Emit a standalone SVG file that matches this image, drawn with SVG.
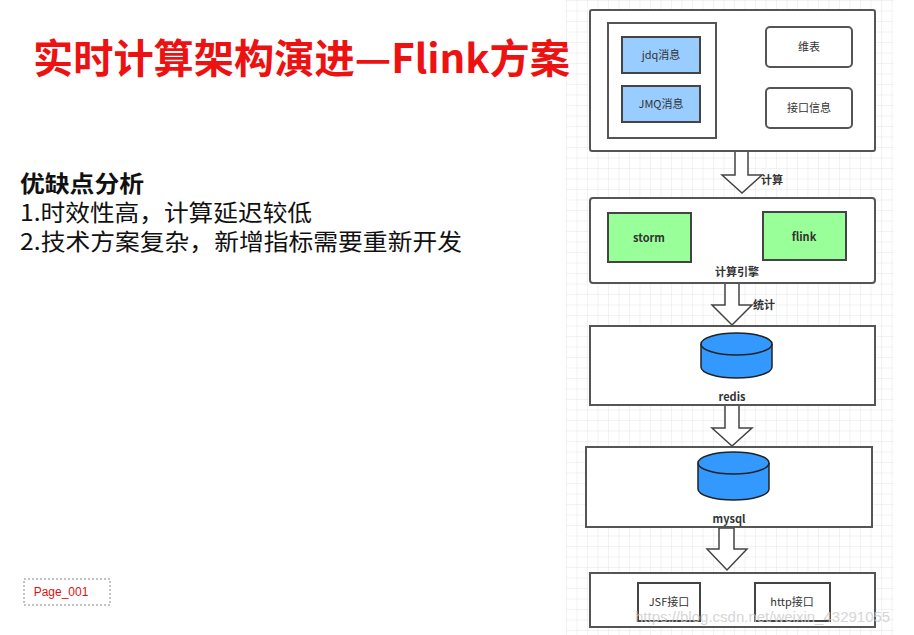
<svg xmlns="http://www.w3.org/2000/svg" width="914" height="635" viewBox="0 0 914 635">
<defs>
<pattern id="grid" width="10.5" height="10.5" patternUnits="userSpaceOnUse" x="566" y="0"><path d="M10.5 0H0V10.5" fill="none" stroke="#e6e6e6" stroke-width="1"/></pattern>
</defs>
<style>
.box{fill:#fff;stroke:#555;stroke-width:2}
.in{stroke:#444;stroke-width:2}
.t{font-family:"Noto Sans CJK SC","Liberation Sans",sans-serif;font-size:11px;fill:#333;text-anchor:middle}
.b{font-weight:bold}
.arr{fill:#fff;stroke:#444;stroke-width:1.5}
.cyl{fill:#3399ff;stroke:#222;stroke-width:1.5}
.L{font-family:"Noto Sans CJK SC",sans-serif;font-size:23px;fill:#111}
</style>
<rect width="914" height="635" fill="#fff"/>
<rect x="566" y="0" width="328" height="635" fill="url(#grid)"/>
<text x="33" y="73" font-family="Noto Sans CJK SC,sans-serif" font-weight="bold" font-size="40" fill="#ee1111" textLength="537" lengthAdjust="spacingAndGlyphs">实时计算架构演进—Flink方案</text>
<text x="20" y="192" class="L b" textLength="124" lengthAdjust="spacingAndGlyphs">优缺点分析</text>
<text x="20" y="221" class="L" textLength="292" lengthAdjust="spacingAndGlyphs">1.时效性高，计算延迟较低</text>
<text x="20" y="250" class="L" textLength="442" lengthAdjust="spacingAndGlyphs">2.技术方案复杂，新增指标需要重新开发</text>
<g id="page"><rect x="24" y="579" width="86" height="26" fill="none" stroke="#888" stroke-dasharray="2,2"/><text x="61" y="596" font-family="Liberation Sans,sans-serif" font-size="12" fill="#dd1111" text-anchor="middle">Page_001</text></g>
<g id="connectors">
<path class="arr" d="M735 151V175H722L742 193L762 175H748V151Z"/>
<text x="772" y="184" class="t b" text-anchor="start">计算</text>
<path class="arr" d="M725 283V305H712L732 325L752 305H739V283Z"/>
<text x="764" y="309" class="t b" text-anchor="start">统计</text>
<path class="arr" d="M725 405V428H712L732 446L752 428H739V405Z"/>
<path class="arr" d="M719 528V549H707L727 570L747 549H734V528Z"/>
</g>
<g id="source"><rect class="box" x="590" y="10" width="285" height="141" rx="2"/>
<rect class="box" x="608" y="23" width="108" height="115"/>
<g id="jdq"><rect x="622" y="37" width="78" height="36" fill="#99ccff" class="in"/><text x="661" y="59" class="t">jdq消息</text></g>
<g id="jmq"><rect x="622" y="86" width="78" height="36" fill="#99ccff" class="in"/><text x="661" y="108" class="t">JMQ消息</text></g>
<g id="wb"><rect x="766" y="27" width="86" height="40" rx="4" class="box"/><text x="809" y="51" class="t">维表</text></g>
<g id="jk"><rect x="766" y="88" width="86" height="40" rx="4" class="box"/><text x="809" y="112" class="t">接口信息</text></g>
</g>
<g id="engine"><rect class="box" x="590" y="198" width="285" height="85" rx="3"/>
<g id="storm"><rect x="608" y="213" width="83" height="49" fill="#99ff99" class="in"/><text x="649" y="242" class="t b">storm</text></g>
<g id="flink"><rect x="763" y="212" width="83" height="48" fill="#99ff99" class="in"/><text x="804" y="241" class="t b">flink</text></g>
<text x="737" y="276" class="t b">计算引擎</text></g>
<g id="redis"><rect class="box" x="590" y="326" width="285" height="79"/>
<path class="cyl" d="M701 344V367A35.5 11 0 0 0 772 367V344"/><ellipse class="cyl" cx="736.5" cy="344" rx="35.5" ry="11"/>
<text x="732" y="401" class="t b">redis</text></g>
<g id="mysql"><rect class="box" x="586" y="447" width="286" height="80"/>
<path class="cyl" d="M698 463V489A35.5 11 0 0 0 769 489V463"/><ellipse class="cyl" cx="733.5" cy="463" rx="35.5" ry="11"/>
<text x="729" y="523" class="t b">mysql</text></g>
<g id="api"><rect class="box" x="590" y="573" width="285" height="54"/>
<g id="jsf"><rect x="638" y="583" width="62" height="38" fill="#fff" class="in"/><text x="669" y="606" class="t">JSF接口</text></g>
<g id="http"><rect x="755" y="583" width="75" height="38" fill="#fff" class="in"/><text x="792" y="606" class="t">http接口</text></g></g>
<text x="635" y="622" font-family="Liberation Sans,sans-serif" font-size="15" fill="#cccccc" opacity="0.8">https://blog.csdn.net/weixin_43291055</text>
</svg>
